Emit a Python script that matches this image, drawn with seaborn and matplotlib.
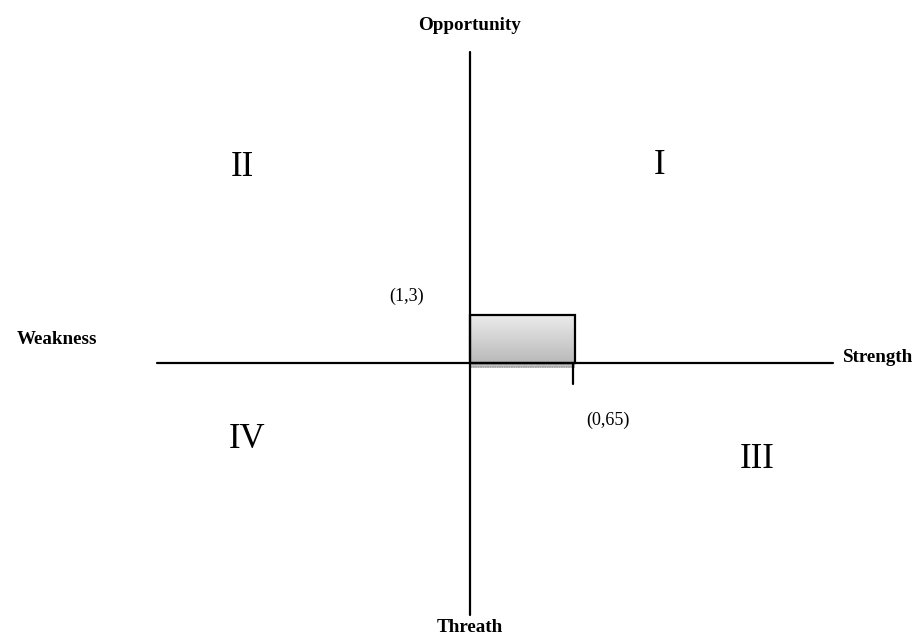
import numpy as np
import matplotlib
matplotlib.use('Agg')
import matplotlib.pyplot as plt
import seaborn as sns
from matplotlib.patches import Rectangle

# SWOT position values (decimal comma in the labels)
strength_score = 0.65
opportunity_score = 1.3
point_labels = ['(1,3)', '(0,65)']
quadrants = ['I', 'II', 'III', 'IV']
axis_names = ['Opportunity', 'Threath', 'Weakness', 'Strength']

sns.set_style('white')
plt.rcParams['font.family'] = ['Liberation Serif', 'DejaVu Serif']
plt.rcParams['text.color'] = 'black'

W, H = 924, 637
fig = plt.figure(figsize=(W / 100, H / 100), dpi=100)
ax = fig.add_axes([0, 0, 1, 1])

# data units -> pixels (schematic scale of the original)
SX = 105 / strength_score
SY = 48 / opportunity_score
OX, OY = 470, 363


def px(x, y):
    return (x - OX) / SX, (OY - y) / SY


ax.set_xlim(px(0, 0)[0], px(W, 0)[0])
ax.set_ylim(px(0, H)[1], px(0, 0)[1])
ax.axis('off')

# gradient box from origin to (strength, opportunity)
grad = np.linspace(0, 1, 100).reshape(-1, 1)
ax.imshow(grad, extent=[0, strength_score, 0, opportunity_score], origin='upper',
          cmap=matplotlib.colors.LinearSegmentedColormap.from_list('g', ['#ebebeb', '#b9b9b9']),
          aspect='auto', zorder=1)
ax.add_patch(Rectangle((0, 0), strength_score, opportunity_score, fill=False,
                       edgecolor='black', lw=1.6, zorder=3))
# dotted band under the box
band_h = 5 / SY
ax.add_patch(Rectangle((0, -band_h), strength_score, band_h, facecolor='#d0d0d0',
                       edgecolor='#8a8a8a', hatch='.......', lw=0, zorder=2))

# main axes
x_left, _ = px(157, 0)
x_right, _ = px(833, 0)
_, y_top = px(0, 52)
_, y_bot = px(0, 615)
line_kw = dict(ax=ax, color='black', lw=1.6, sort=False, estimator=None, zorder=4)
sns.lineplot(x=[x_left, x_right], y=[0, 0], **line_kw)
sns.lineplot(x=[0, 0], y=[y_bot, y_top], **line_kw)
# tick under strength value
sns.lineplot(x=[strength_score * 0.985] * 2, y=[0, -21 / SY], **line_kw)

# axis names
bold = dict(fontsize=13.7, fontweight='bold', ha='center', va='center', color='black')
ax.text(*px(469, 26), axis_names[0], **bold)
ax.text(*px(470, 627), axis_names[1], **bold)
ax.text(*px(57, 339), axis_names[2], **bold)
ax.text(*px(878, 357), axis_names[3], **bold)

# quadrant numerals
for q, (x, y) in zip(quadrants, [(660, 166), (242, 167), (757, 459), (247, 440)]):
    ax.text(*px(x, y), q, fontsize=25, ha='center', va='center', color='black')

# value labels
ax.text(*px(407, 296), point_labels[0], fontsize=13, ha='center', va='center', color='black')
ax.text(*px(608, 420), point_labels[1], fontsize=13, ha='center', va='center', color='black')

fig.savefig('out.png', dpi=100, facecolor='white')
